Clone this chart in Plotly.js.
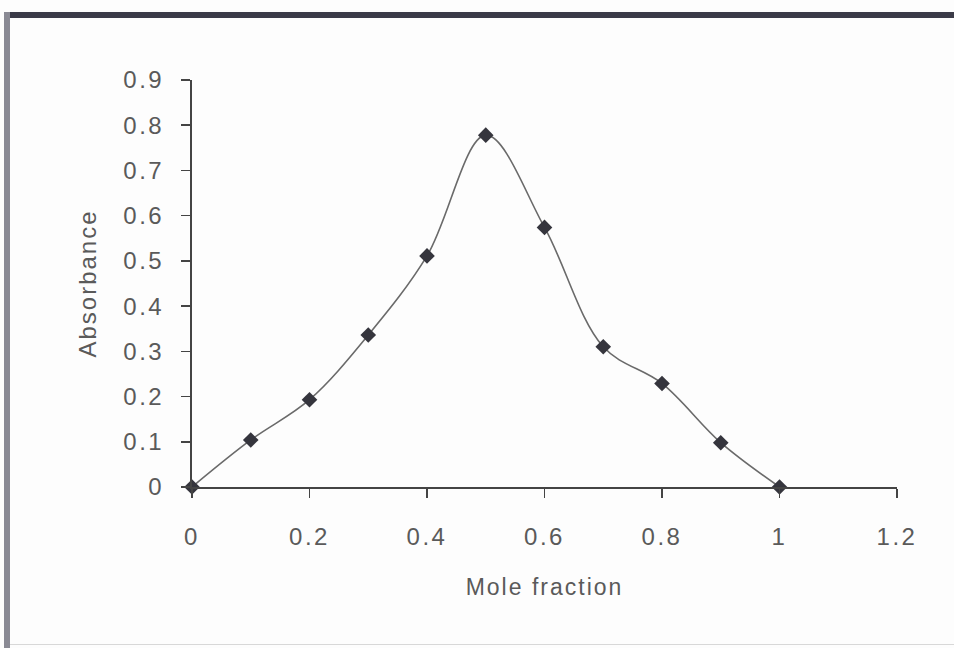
<!DOCTYPE html>
<html>
<head>
<meta charset="utf-8">
<script src="https://cdn.plot.ly/plotly-3.0.1.min.js"></script>
<style>
  html, body { margin: 0; padding: 0; background: #fdfdfd; }
  #wrap { position: relative; width: 954px; height: 648px; overflow: hidden; }
  #chart { position: absolute; left: 0; top: 0; width: 954px; height: 648px; }
  #topbar { position: absolute; left: 4px; top: 12px; width: 950px; height: 6px; background: #3b3b48; }
  #leftbar { position: absolute; left: 4px; top: 12px; width: 6px; height: 636px; background: #8a8a94; }
  #botline { position: absolute; left: 10px; top: 644px; width: 944px; height: 1px; background: #d8d8d8; }
  .xtick text, .ytick text { letter-spacing: 2.5px; }
  .g-xtitle text, .g-ytitle text { letter-spacing: 2px; }
</style>
</head>
<body>
<div id="wrap">
  <div id="chart"></div>
  <div id="topbar"></div>
  <div id="leftbar"></div>
  <div id="botline"></div>
</div>
<script>
const moleFraction = [0, 0.1, 0.2, 0.3, 0.4, 0.5, 0.6, 0.7, 0.8, 0.9, 1.0];
const absorbance   = [0, 0.104, 0.193, 0.336, 0.511, 0.778, 0.574, 0.31, 0.229, 0.098, 0];
const xTickVals = [0, 0.2, 0.4, 0.6, 0.8, 1, 1.2];
const xTickText = ['0', '0.2', '0.4', '0.6', '0.8', '1', '1.2'];
const yTickVals = [0, 0.1, 0.2, 0.3, 0.4, 0.5, 0.6, 0.7, 0.8, 0.9];
const yTickText = ['0', '0.1', '0.2', '0.3', '0.4', '0.5', '0.6', '0.7', '0.8', '0.9'];

const font = { family: 'Liberation Sans, Arial, sans-serif', color: '#5a5a5a' };

const trace = {
  x: moleFraction,
  y: absorbance,
  type: 'scatter',
  mode: 'lines+markers',
  line: { shape: 'spline', smoothing: 1, color: '#6a6a6a', width: 1.6 },
  marker: { symbol: 'diamond', size: 12, color: '#35353d' },
  cliponaxis: false,
  showlegend: false
};

const layout = {
  width: 954, height: 648,
  paper_bgcolor: 'rgba(0,0,0,0)',
  plot_bgcolor: 'rgba(0,0,0,0)',
  margin: { l: 192, r: 57, t: 80, b: 161 },
  font: font,
  xaxis: {
    range: [0, 1.2],
    tickvals: xTickVals, ticktext: xTickText,
    ticks: 'outside', ticklen: 9, tickwidth: 1.5, tickcolor: '#444',
    showline: true, linecolor: '#444', linewidth: 2,
    showgrid: false, zeroline: false,
    tickfont: { family: font.family, size: 24, color: '#5a5a5a' },
    ticklabelstandoff: 18,
    title: { text: 'Mole fraction', font: { family: font.family, size: 23, color: '#5a5a5a' }, standoff: 30 },
    fixedrange: true
  },
  yaxis: {
    range: [0, 0.9],
    tickvals: yTickVals, ticktext: yTickText,
    ticks: 'outside', ticklen: 9, tickwidth: 1.5, tickcolor: '#444',
    showline: true, linecolor: '#444', linewidth: 2,
    showgrid: false, zeroline: false,
    tickfont: { family: font.family, size: 24, color: '#5a5a5a' },
    ticklabelstandoff: 12,
    title: { text: 'Absorbance', font: { family: font.family, size: 24, color: '#5a5a5a' }, standoff: 20 },
    fixedrange: true
  }
};

Plotly.newPlot('chart', [trace], layout, { displayModeBar: false, staticPlot: true });
</script>
</body>
</html>
